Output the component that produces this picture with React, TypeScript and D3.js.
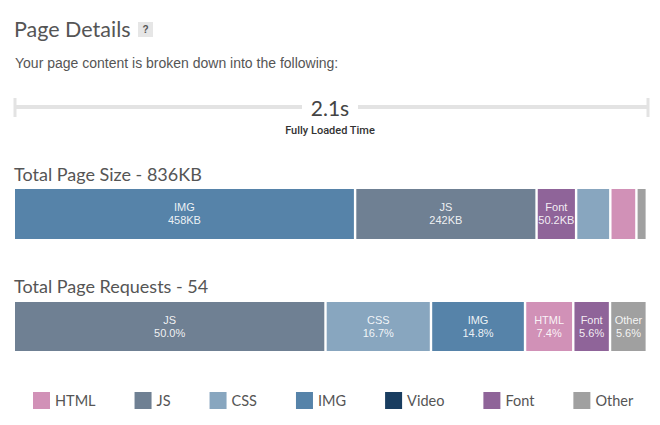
import React, { useEffect, useRef } from "react";
import * as d3 from "d3";

const sizeCategories = ["IMG", "JS", "Font", "CSS", "HTML", "Other"];
const sizeValuesKB = [458, 242, 50.2, 43, 32, 10.8];
const requestCategories = ["JS", "CSS", "IMG", "HTML", "Font", "Other"];
const requestCounts = [27, 9, 8, 4, 3, 3];
const legendCategories = ["HTML", "JS", "CSS", "IMG", "Video", "Font", "Other"];
const loadTimeLabel = "2.1s";
const totalSizeLabel = "836KB";
const totalRequests = 54;

const colors: Record<string, string> = {
  HTML: "#d191b7",
  JS: "#6f8093",
  CSS: "#88a6bf",
  IMG: "#5683a9",
  Video: "#193d60",
  Font: "#8f6499",
  Other: "#a0a0a0",
};

const W = 660;
const H = 425;
const HEAD_FONT = "Lato, 'Open Sans', sans-serif";
const BODY_FONT = "'Liberation Sans', Arial, sans-serif";

export default function App() {
  const ref = useRef<SVGSVGElement | null>(null);

  useEffect(() => {
    const svg = d3.select(ref.current);
    svg.selectAll("*").remove();

    // Title
    svg.append("text").attr("x", 14).attr("y", 37).attr("font-family", HEAD_FONT).attr("font-weight", 400)
      .attr("font-size", 21.5).attr("fill", "#555").text("Page Details");
    svg.append("rect").attr("x", 138).attr("y", 22).attr("width", 15).attr("height", 15).attr("fill", "#e6e6e6");
    svg.append("text").attr("x", 145.5).attr("y", 33).attr("text-anchor", "middle").attr("font-family", BODY_FONT)
      .attr("font-size", 10).attr("font-weight", "bold").attr("fill", "#555").text("?");
    svg.append("text").attr("x", 15).attr("y", 68).attr("font-family", BODY_FONT)
      .attr("font-size", 14).attr("fill", "#555").text("Your page content is broken down into the following:");

    // Timeline
    const x0 = 15, x1 = 648;
    const lineY = 107;
    const tl = svg.append("g");
    tl.append("line").attr("x1", x0).attr("x2", 302).attr("y1", lineY).attr("y2", lineY)
      .attr("stroke", "#e3e3e3").attr("stroke-width", 4);
    tl.append("line").attr("x1", 358).attr("x2", x1).attr("y1", lineY).attr("y2", lineY)
      .attr("stroke", "#e3e3e3").attr("stroke-width", 4);
    [x0, x1].forEach((x) => {
      tl.append("line").attr("x1", x).attr("x2", x).attr("y1", 98).attr("y2", 117)
        .attr("stroke", "#e3e3e3").attr("stroke-width", 3);
    });
    tl.append("text").attr("x", 330).attr("y", 116).attr("text-anchor", "middle").attr("font-family", HEAD_FONT)
      .attr("font-weight", 400).attr("font-size", 21).attr("fill", "#444").text(loadTimeLabel);
    tl.append("text").attr("x", 330).attr("y", 134).attr("text-anchor", "middle").attr("font-family", "Roboto, sans-serif")
      .attr("font-weight", 500).attr("font-size", 11).attr("fill", "#333").text("Fully Loaded Time");

    // Stacked bar helper
    const gap = 2.4;
    function drawBar(top: number, height: number, cats: string[], vals: number[], fmt: (v: number, i: number) => string) {
      const total = d3.sum(vals);
      const scale = d3.scaleLinear().domain([0, total]).range([0, x1 - x0 - gap * vals.length]);
      const g = svg.append("g");
      let cx = x0;
      vals.forEach((v, i) => {
        const w = scale(v);
        g.append("rect").attr("x", cx).attr("y", top).attr("width", w).attr("height", height)
          .attr("fill", colors[cats[i]]);
        if (w >= 33) {
          const mid = cx + w / 2;
          g.append("text").attr("x", mid).attr("y", top + 22).attr("text-anchor", "middle")
            .attr("font-family", BODY_FONT).attr("font-size", 11).attr("fill", "#fff").attr("fill-opacity", 0.9)
            .text(cats[i]);
          g.append("text").attr("x", mid).attr("y", top + 35).attr("text-anchor", "middle")
            .attr("font-family", BODY_FONT).attr("font-size", 11).attr("fill", "#fff").attr("fill-opacity", 0.9)
            .text(fmt(v, i));
        }
        cx += w + gap;
      });
    }

    svg.append("text").attr("x", 14).attr("y", 181).attr("font-family", HEAD_FONT).attr("font-weight", 400)
      .attr("font-size", 18).attr("fill", "#555").text(`Total Page Size - ${totalSizeLabel}`);
    drawBar(189, 50, sizeCategories, sizeValuesKB, (v) => `${v}KB`);

    const reqTotal = d3.sum(requestCounts);
    const pct = d3.format(".1%");
    svg.append("text").attr("x", 14).attr("y", 293).attr("font-family", HEAD_FONT).attr("font-weight", 400)
      .attr("font-size", 18).attr("fill", "#555").text(`Total Page Requests - ${totalRequests}`);
    drawBar(302, 49, requestCategories, requestCounts, (v) => pct(v / reqTotal));

    // Legend
    const lg = svg.append("g");
    let lx = 33;
    legendCategories.forEach((c) => {
      lg.append("rect").attr("x", lx).attr("y", 392).attr("width", 17).attr("height", 17).attr("fill", colors[c]);
      const t = lg.append("text").attr("x", lx + 22).attr("y", 406).attr("font-family", HEAD_FONT).attr("font-weight", 400)
        .attr("font-size", 14.5).attr("fill", "#555").text(c);
      const tw = (t.node() as SVGTextElement).getComputedTextLength();
      lx += 22 + tw + 39;
    });
  }, []);

  return (
    <svg ref={ref} width={W} height={H} style={{ position: "absolute", left: 0, top: 0, background: "#fff" }} />
  );
}
